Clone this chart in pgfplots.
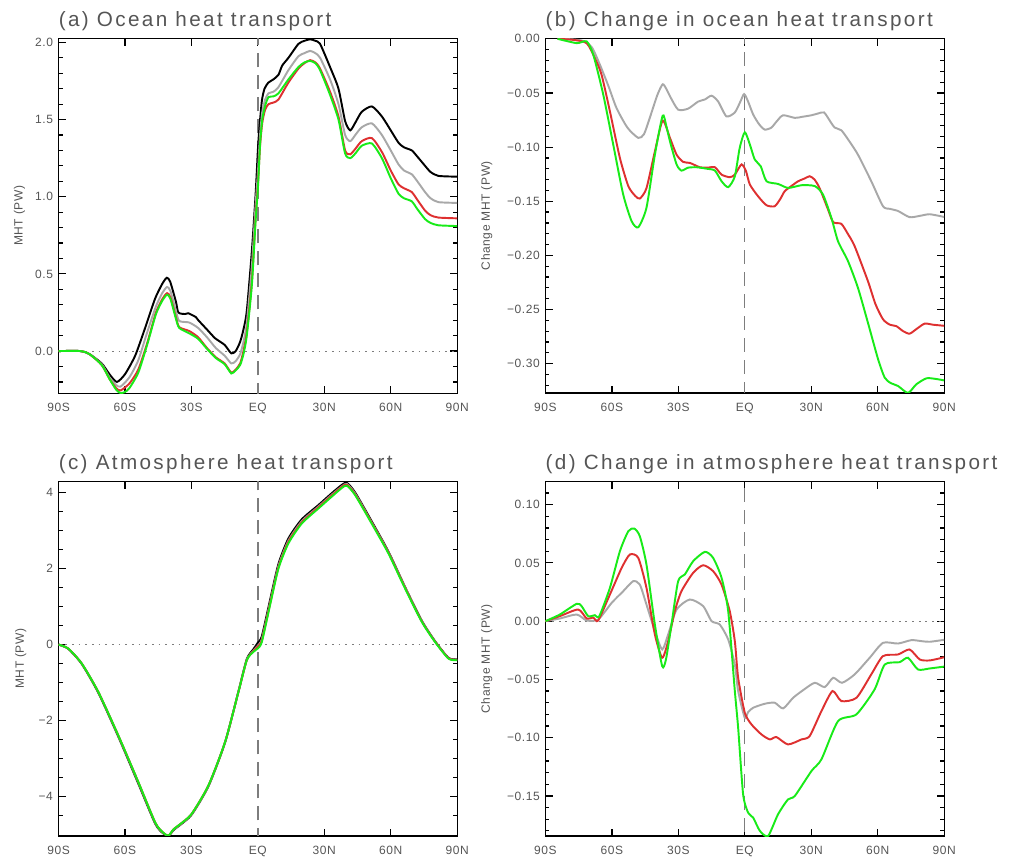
\documentclass[border=0pt]{standalone}
\usepackage{fontspec}
\setmainfont{Liberation Sans}
\newfontfamily\titlefont[LetterSpace=11.5]{Liberation Sans}
\newfontfamily\tickfont[LetterSpace=5]{Liberation Sans}
\usepackage{pgfplots}
\pgfplotsset{compat=1.18}

\definecolor{cgray}{RGB}{168,168,168}
\definecolor{cred}{RGB}{222,48,48}
\definecolor{cgreen}{RGB}{24,235,24}
\definecolor{txt}{RGB}{85,85,85}
\definecolor{refl}{RGB}{125,125,125}

\pgfplotsset{
  panel/.style={
    scale only axis, width=299pt, height=266pt, anchor=north west,
    xmin=-90, xmax=90, xtick={-90,-60,-30,0,30,60,90},
    xticklabels={90S,60S,30S,EQ,30N,60N,90N},
    tick align=inside, major tick length=5.5pt, minor tick length=3pt,
    every tick/.style={black, line width=0.9pt},
    axis line style={line width=0.9pt},
    xticklabel style={font=\tickfont\fontsize{9}{10}\selectfont, text=txt,
      anchor=north, inner sep=0pt, yshift=-7.5pt},
    yticklabel style={font=\tickfont\fontsize{9}{10}\selectfont, text=txt,
      anchor=east, inner sep=0pt, xshift=-4pt},
    every axis y label/.style={font=\tickfont\fontsize{9}{10}\selectfont, text=txt,
      rotate=90, anchor=center},
    every axis title/.style={font=\titlefont\fontsize{15.5}{18}\selectfont, text=txt,
      at={(0,1)}, anchor=base west, inner sep=0pt, yshift=8.8pt},
  },
  blk/.style={black, line width=1.45pt, smooth, tension=0.4},
  gry/.style={cgray, line width=1.45pt, smooth, tension=0.4},
  rd/.style={cred, line width=1.45pt, smooth, tension=0.4},
  grn/.style={cgreen, line width=1.45pt, smooth, tension=0.4},
  zl/.style={refl, line width=0.8pt, dash pattern=on 1.4pt off 3.6pt},
  eq/.style={refl, line width=1pt, dash pattern=on 10.5pt off 6pt},
}

\begin{document}
\begin{tikzpicture}
\useasboundingbox (0,0) rectangle (758.25pt,-645pt);

% (a)
\begin{axis}[panel, at={(43.9pt,-28.9pt)},
  ymin=-0.273, ymax=2.025,
  ytick={0,0.5,1,1.5,2}, yticklabels={0.0,0.5,1.0,1.5,2.0},
  minor ytick={-0.2,-0.1,0.1,0.2,0.3,0.4,0.6,0.7,0.8,0.9,1.1,1.2,1.3,1.4,1.6,1.7,1.8,1.9},
  title={(a) Ocean heat transport},
  ylabel={MHT (PW)}, ylabel style={at={(axis description cs:-0.098,0.5)}}]
\addplot[zl] coordinates {(-90,0) (90,0)};
\addplot[eq] coordinates {(0,-0.3) (0,2.1)};
\addplot[blk] coordinates {(-90,0) (-80,0) (-76,-0.02) (-70.5,-0.08) (-67,-0.15) (-63.7,-0.20) (-60,-0.15) (-55.4,-0.03) (-50.9,0.15) (-46.4,0.34) (-43,0.44) (-41.1,0.475) (-39.6,0.45) (-37,0.32) (-35.9,0.25) (-33,0.24) (-31.4,0.245) (-28,0.22) (-26.9,0.20) (-23,0.14) (-19.3,0.083) (-15,0.04) (-12,-0.015) (-10,0.0) (-8,0.06) (-6.5,0.14) (-5,0.26) (-2.7,0.65) (-1,1.02) (0,1.30) (0.6,1.43) (1.8,1.62) (3,1.70) (4.8,1.74) (7,1.76) (9.3,1.79) (11,1.85) (13.8,1.90) (18.3,1.99) (21,2.01) (23.6,2.02) (26,2.01) (28.1,1.99) (32.6,1.84) (36.4,1.70) (39.4,1.49) (41.7,1.43) (44,1.48) (46.9,1.55) (51.5,1.585) (56,1.52) (60,1.43) (63.5,1.35) (66,1.32) (69.5,1.30) (72,1.26) (75.5,1.20) (78,1.16) (81.5,1.135) (90,1.13)};
\addplot[gry] coordinates {(-90,0) (-80,0) (-76,-0.02) (-70.5,-0.085) (-67,-0.17) (-64,-0.22) (-62,-0.23) (-58,-0.17) (-54,-0.06) (-50,0.12) (-46,0.29) (-43,0.38) (-41,0.415) (-39.5,0.39) (-37,0.26) (-35.5,0.195) (-31,0.185) (-27,0.15) (-23,0.09) (-19,0.02) (-15,-0.03) (-12,-0.08) (-10,-0.065) (-8,-0.02) (-6.5,0.06) (-5,0.18) (-2.7,0.55) (-1,0.95) (0,1.15) (1,1.40) (2,1.55) (3.3,1.63) (4.8,1.67) (7,1.68) (9.3,1.71) (13.8,1.82) (18.3,1.91) (21,1.93) (23.6,1.945) (26,1.93) (28.1,1.90) (32.6,1.76) (36.4,1.60) (39.4,1.40) (41.7,1.36) (44,1.40) (46.9,1.45) (51.5,1.475) (56,1.40) (60,1.30) (63.5,1.21) (66,1.17) (69.5,1.145) (72,1.10) (75.5,1.03) (78,0.99) (81.5,0.965) (90,0.96)};
\addplot[rd] coordinates {(-90,0) (-80,0) (-76,-0.02) (-70.5,-0.09) (-67,-0.18) (-64,-0.24) (-62,-0.255) (-58,-0.21) (-54,-0.12) (-50,0.05) (-46,0.25) (-43,0.34) (-41,0.375) (-39.5,0.35) (-37,0.22) (-35.5,0.155) (-31,0.13) (-27,0.09) (-23,0.02) (-19,-0.04) (-15,-0.08) (-12,-0.14) (-10,-0.12) (-8,-0.08) (-6.5,0.0) (-5,0.12) (-2.7,0.45) (-1,0.87) (0,1.07) (1,1.33) (2,1.48) (3.3,1.565) (4.8,1.60) (7,1.61) (9.3,1.63) (13.8,1.74) (18.3,1.83) (21,1.865) (23.6,1.885) (26,1.87) (28.1,1.83) (32.6,1.68) (36.4,1.52) (39.4,1.30) (41.7,1.275) (44,1.31) (46.9,1.36) (51.5,1.38) (56,1.29) (60,1.17) (63.5,1.08) (66,1.055) (69.5,1.03) (72,0.98) (75.5,0.91) (78,0.88) (81.5,0.865) (90,0.86)};
\addplot[grn] coordinates {(-90,0) (-80,0) (-76,-0.02) (-70.5,-0.09) (-67,-0.18) (-64,-0.25) (-62,-0.272) (-60,-0.265) (-58,-0.24) (-54,-0.14) (-50,0.04) (-46,0.24) (-43,0.33) (-41,0.365) (-39.5,0.34) (-37,0.21) (-35.5,0.15) (-31,0.115) (-27,0.08) (-23,0.015) (-19,-0.045) (-15,-0.085) (-12,-0.145) (-10,-0.125) (-8,-0.09) (-6.5,-0.02) (-5,0.10) (-2.7,0.43) (-1,0.85) (0,1.05) (1,1.34) (2,1.50) (3.3,1.59) (4.8,1.645) (7,1.65) (9.3,1.67) (13.8,1.76) (18.3,1.84) (21,1.87) (23.6,1.88) (26,1.865) (28.1,1.82) (32.6,1.66) (36.4,1.50) (39.4,1.28) (41.7,1.25) (44,1.28) (46.9,1.33) (51.5,1.345) (56,1.25) (60,1.12) (63.5,1.02) (66,0.99) (69.5,0.97) (72,0.92) (75.5,0.855) (78,0.83) (81.5,0.815) (90,0.81)};
\end{axis}

% (b)
\begin{axis}[panel, at={(409.1pt,-28.7pt)},
  ymin=-0.327, ymax=0.0005,
  ytick={-0.3,-0.25,-0.2,-0.15,-0.1,-0.05,0},
  yticklabels={−0.30,−0.25,−0.20,−0.15,−0.10,−0.05,0.00},
  minor ytick={-0.32,-0.31,-0.29,-0.28,-0.27,-0.26,-0.24,-0.23,-0.22,-0.21,-0.19,-0.18,-0.17,-0.16,-0.14,-0.13,-0.12,-0.11,-0.09,-0.08,-0.07,-0.06,-0.04,-0.03,-0.02,-0.01},
  title={(b) Change in ocean heat transport},
  ylabel={Change MHT (PW)}, ylabel style={at={(axis description cs:-0.147,0.5)}}]
\addplot[eq] coordinates {(0,-0.35) (0,0.01)};
\addplot[gry] coordinates {(-84.5,0) (-78,-0.0005) (-72.9,-0.002) (-69,-0.008) (-65.4,-0.024) (-61.5,-0.044) (-57.9,-0.064) (-53,-0.082) (-48.1,-0.0915) (-45.5,-0.088) (-42.9,-0.073) (-39.5,-0.052) (-37.1,-0.042) (-35.5,-0.046) (-33.8,-0.053) (-30.1,-0.0654) (-25.6,-0.0645) (-21.1,-0.058) (-18,-0.056) (-15,-0.0525) (-12,-0.058) (-8.3,-0.0716) (-4.5,-0.068) (-2,-0.058) (-0.3,-0.051) (1.5,-0.058) (3.8,-0.070) (6.5,-0.079) (9,-0.0838) (12,-0.082) (14.5,-0.076) (17.3,-0.0706) (22.6,-0.073) (26,-0.072) (30.1,-0.0706) (33,-0.069) (35.8,-0.068) (38.5,-0.076) (40.6,-0.082) (43.6,-0.0845) (47,-0.094) (51.1,-0.107) (57.1,-0.1315) (62.4,-0.1546) (65.5,-0.157) (69.2,-0.159) (74.4,-0.1647) (79,-0.1635) (83.5,-0.162) (90,-0.1645)};
\addplot[rd] coordinates {(-84.5,0) (-77.4,-0.001) (-71.4,-0.004) (-67.7,-0.0178) (-64.7,-0.033) (-60.9,-0.067) (-56.4,-0.110) (-52.6,-0.136) (-49.5,-0.145) (-47.4,-0.1475) (-44.4,-0.138) (-40.6,-0.104) (-37.1,-0.0755) (-33.8,-0.0915) (-30.8,-0.107) (-27.8,-0.1137) (-24.8,-0.1146) (-20.3,-0.1186) (-17,-0.119) (-13.5,-0.1186) (-10.5,-0.1254) (-6.8,-0.1278) (-4.5,-0.1254) (-1.5,-0.116) (0.5,-0.122) (2.3,-0.1346) (6,-0.1454) (9.8,-0.1537) (13.5,-0.1546) (16,-0.148) (18,-0.1408) (21,-0.136) (24.1,-0.1315) (27,-0.129) (29.3,-0.1269) (31.5,-0.130) (33.8,-0.138) (37.6,-0.1577) (39.9,-0.1693) (43.6,-0.1709) (46.5,-0.180) (49.6,-0.1915) (55.6,-0.2238) (59,-0.245) (62.4,-0.259) (65.5,-0.264) (68.4,-0.2653) (71.5,-0.270) (74.4,-0.2723) (77.5,-0.268) (81.2,-0.263) (85,-0.264) (90,-0.265)};
\addplot[grn] coordinates {(-84.5,0) (-75.9,-0.004) (-71.4,-0.0024) (-68.4,-0.0147) (-63.9,-0.0516) (-59.4,-0.0977) (-54.9,-0.1438) (-51.1,-0.1684) (-48.1,-0.174) (-44.4,-0.156) (-40.6,-0.107) (-37.1,-0.071) (-35.5,-0.080) (-33.8,-0.0946) (-30.8,-0.116) (-28.6,-0.1217) (-25.6,-0.119) (-21.8,-0.1186) (-17,-0.120) (-13.5,-0.1217) (-10.5,-0.1315) (-7.5,-0.137) (-4.5,-0.127) (-2.3,-0.1008) (0,-0.0863) (2.3,-0.0977) (4.5,-0.1115) (7.2,-0.1177) (9.8,-0.1315) (15,-0.134) (19.6,-0.1377) (25.6,-0.1352) (31.6,-0.136) (35.3,-0.1438) (39.1,-0.1653) (42.1,-0.187) (46.6,-0.2053) (51.1,-0.23) (55.6,-0.2622) (60.2,-0.296) (63.2,-0.313) (66,-0.318) (69.2,-0.3206) (73.7,-0.327) (77.4,-0.3191) (82,-0.3135) (86,-0.314) (90,-0.3154)};
\end{axis}

% (c)
\begin{axis}[panel, at={(43.9pt,-361pt)},
  ymin=-5.03, ymax=4.29,
  ytick={-4,-2,0,2,4}, yticklabels={−4,−2,0,2,4},
  minor ytick={-4.5,-3.5,-3,-2.5,-1.5,-1,-0.5,0.5,1,1.5,2.5,3,3.5},
  title={(c) Atmosphere heat transport},
  ylabel={MHT (PW)}, ylabel style={at={(axis description cs:-0.095,0.5)}}]
\addplot[zl] coordinates {(-90,0) (90,0)};
\addplot[eq] coordinates {(0,-5.2) (0,4.4)};
\addplot[blk] coordinates {(-90,0) (-85.6,-0.11) (-79.5,-0.51) (-72,-1.27) (-63,-2.42) (-54,-3.65) (-46.4,-4.70) (-43,-4.95) (-40.4,-5.03) (-38,-4.87) (-35.1,-4.74) (-29.9,-4.47) (-22.3,-3.72) (-14.8,-2.57) (-8.8,-1.24) (-5,-0.38) (-2,-0.12) (0,0.05) (1.8,0.22) (5.5,1.17) (9.3,2.12) (13.8,2.79) (19.8,3.29) (27.4,3.67) (33.4,3.98) (38,4.2) (40.2,4.25) (43.9,4.0) (51.4,3.24) (59,2.44) (66.5,1.51) (74,0.63) (80,0.09) (86.1,-0.35) (90,-0.39)};
\addplot[gry] coordinates {(-90,0) (-85.6,-0.105) (-79.5,-0.5) (-72,-1.25) (-63,-2.40) (-54,-3.62) (-46.4,-4.68) (-43,-4.94) (-40.4,-5.02) (-38,-4.86) (-35.1,-4.73) (-29.9,-4.46) (-22.3,-3.71) (-14.8,-2.56) (-8.8,-1.24) (-5,-0.40) (-2,-0.16) (0,-0.03) (1.8,0.14) (5.5,1.10) (9.3,2.06) (13.8,2.73) (19.8,3.24) (27.4,3.63) (33.4,3.94) (38,4.16) (40.2,4.22) (43.9,3.97) (51.4,3.21) (59,2.42) (66.5,1.50) (74,0.62) (80,0.08) (86.1,-0.36) (90,-0.40)};
\addplot[rd] coordinates {(-90,0) (-85.6,-0.105) (-79.5,-0.5) (-72,-1.25) (-63,-2.39) (-54,-3.61) (-46.4,-4.67) (-43,-4.93) (-40.4,-5.02) (-38,-4.85) (-35.1,-4.72) (-29.9,-4.45) (-22.3,-3.70) (-14.8,-2.56) (-8.8,-1.25) (-5,-0.41) (-2,-0.17) (0,-0.05) (1.8,0.11) (5.5,1.07) (9.3,2.03) (13.8,2.70) (19.8,3.21) (27.4,3.61) (33.4,3.92) (38,4.15) (40.2,4.20) (43.9,3.95) (51.4,3.20) (59,2.41) (66.5,1.49) (74,0.61) (80,0.08) (86.1,-0.36) (90,-0.40)};
\addplot[grn] coordinates {(-90,0) (-85.6,-0.105) (-79.5,-0.5) (-72,-1.25) (-63,-2.39) (-54,-3.61) (-46.4,-4.67) (-43,-4.93) (-40.4,-5.02) (-38,-4.85) (-35.1,-4.72) (-29.9,-4.45) (-22.3,-3.70) (-14.8,-2.56) (-8.8,-1.25) (-5,-0.41) (-2,-0.19) (0,-0.1) (1.8,0.07) (5.5,1.035) (9.3,2.0) (13.8,2.66) (19.8,3.18) (27.4,3.58) (33.4,3.89) (38,4.12) (40.2,4.175) (43.9,3.93) (51.4,3.18) (59,2.39) (66.5,1.47) (74,0.60) (80,0.07) (86.1,-0.37) (90,-0.41)};
\end{axis}

% (d)
\begin{axis}[panel, at={(409.1pt,-361pt)},
  ymin=-0.1844, ymax=0.12,
  ytick={-0.15,-0.1,-0.05,0,0.05,0.1},
  yticklabels={−0.15,−0.10,−0.05,0.00,0.05,0.10},
  minor ytick={-0.18,-0.17,-0.16,-0.14,-0.13,-0.12,-0.11,-0.09,-0.08,-0.07,-0.06,-0.04,-0.03,-0.02,-0.01,0.01,0.02,0.03,0.04,0.06,0.07,0.08,0.09,0.11},
  title={(d) Change in atmosphere heat transport},
  ylabel={Change MHT (PW)}, ylabel style={at={(axis description cs:-0.147,0.5)}}]
\addplot[zl] coordinates {(-90,0) (90,0)};
\addplot[eq] coordinates {(0,-0.2) (0,0.13)};
\addplot[gry] coordinates {(-90,0) (-83.5,0.0023) (-75.9,0.0057) (-71.4,0.0006) (-66.2,0.0014) (-60.1,0.0157) (-54.9,0.0257) (-50.4,0.0343) (-47.4,0.0314) (-44.4,0.0143) (-40.6,-0.0086) (-37.3,-0.0243) (-34.6,-0.0114) (-30.8,0.010) (-24.8,0.0186) (-18.8,0.0129) (-15,0.0) (-11.3,-0.0029) (-7.5,-0.0157) (-4.5,-0.0372) (-3,-0.060) (0,-0.083) (1.5,-0.078) (3.8,-0.0743) (9,-0.0709) (13.5,-0.070) (17.3,-0.0749) (21.8,-0.0658) (26.5,-0.059) (31.6,-0.0529) (36.1,-0.0566) (39.9,-0.0486) (43.9,-0.0529) (49.6,-0.0457) (56.4,-0.0314) (62.4,-0.0186) (69.2,-0.0192) (75.2,-0.0163) (80,-0.0172) (83.5,-0.0177) (90,-0.016)};
\addplot[rd] coordinates {(-90,0) (-83.5,0.0043) (-75.2,0.010) (-71.4,0.0023) (-68.4,0.003) (-66.2,0.0006) (-60.9,0.0229) (-55.6,0.0457) (-51.9,0.0572) (-48.1,0.0543) (-44.4,0.0286) (-40.6,-0.0114) (-37.3,-0.0314) (-34.6,-0.0172) (-31.6,0.0086) (-28.6,0.0257) (-23.3,0.0415) (-18.8,0.048) (-14.3,0.0429) (-10.5,0.0314) (-6.8,0.0086) (-4.5,-0.0172) (-3,-0.0486) (0,-0.0786) (3,-0.0886) (7.5,-0.0972) (11.3,-0.1015) (14.3,-0.0995) (19.5,-0.1058) (25.6,-0.1015) (29.3,-0.0986) (34.6,-0.0772) (39.6,-0.060) (43.6,-0.0686) (50.4,-0.0658) (57.1,-0.0457) (62.4,-0.030) (69.2,-0.0286) (74.4,-0.0243) (79,-0.0329) (83.5,-0.0337) (90,-0.031)};
\addplot[grn] coordinates {(-90,0) (-83.5,0.0057) (-75.9,0.0149) (-73.7,0.0129) (-70.7,0.0043) (-67.7,0.0051) (-65.7,0.0043) (-60.9,0.0286) (-56.4,0.060) (-52.6,0.0772) (-49.9,0.0795) (-47.4,0.0729) (-44.4,0.0486) (-40.6,-0.0029) (-37.3,-0.0386) (-35.6,-0.0329) (-33.1,-0.0029) (-30.1,0.0343) (-27.1,0.040) (-23.3,0.0515) (-18,0.0595) (-14.3,0.0543) (-10.5,0.0372) (-7.5,0.0086) (-4.5,-0.060) (-3,-0.0915) (-0.75,-0.1487) (1.5,-0.1644) (3.8,-0.1687) (6.8,-0.180) (10.5,-0.1844) (15,-0.1658) (19.5,-0.153) (22.6,-0.150) (30.1,-0.1286) (34.6,-0.1186) (42.1,-0.0858) (50.4,-0.080) (58.6,-0.0586) (63.2,-0.0372) (69.9,-0.0352) (73.7,-0.0314) (78.2,-0.0415) (83.5,-0.0406) (90,-0.039)};
\end{axis}
\end{tikzpicture}
\end{document}
